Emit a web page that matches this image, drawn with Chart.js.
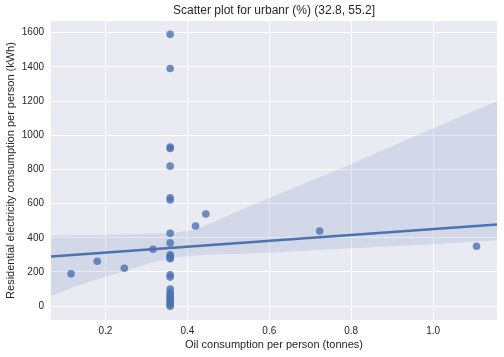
<!DOCTYPE html>
<html>
<head>
<meta charset="utf-8">
<script src="https://cdn.jsdelivr.net/npm/chart.js@4/dist/chart.umd.min.js"></script>
<style>
html,body{margin:0;padding:0;background:#fff;}
#wrap{width:504px;height:357px;position:relative;}
</style>
</head>
<body>
<div id="wrap"><canvas id="c" width="504" height="357"></canvas></div>
<script>
// ---- data ----
const pointsX = [0.116, 0.18, 0.246, 0.316, 0.42, 0.445, 0.723, 1.106,
  0.358, 0.358, 0.358, 0.358, 0.358, 0.358, 0.358, 0.358, 0.358,
  0.358, 0.358, 0.358, 0.358, 0.358, 0.358,
  0.358, 0.358, 0.358, 0.358, 0.358, 0.358, 0.358, 0.358, 0.358, 0.358];
const pointsY = [189, 263, 222, 333, 469, 539, 439, 350,
  1590, 1390, 930, 922, 819, 634, 621, 426, 370,
  300, 292, 285, 278, 184, 170,
  100, 82, 68, 58, 48, 38, 28, 18, 8, 0];
const fitX = [0.067, 1.156];
const fitY = [290, 478];
const bandX = [0.067, 0.13, 0.2, 0.26, 0.31, 0.36, 0.42, 0.46, 0.53, 0.6, 0.8, 1.0, 1.156];
const bandUpper = [412, 415, 418, 421, 424, 427, 448, 490, 562, 632, 832, 1040, 1199];
const bandLower = [60, 118, 172, 216, 252, 280, 296, 302, 306, 312, 339, 362, 385];
const xTicks = [0.2, 0.4, 0.6, 0.8, 1.0];
const yTicks = [0, 200, 400, 600, 800, 1000, 1200, 1400, 1600];
const titleText = 'Scatter plot for urbanr (%) (32.8, 55.2]';
const xTitle = 'Oil consumption per person (tonnes)';
const yTitle = 'Residential electricity consumption per person (kWh)';

const toXY = (xs, ys) => xs.map((x, i) => ({x: x, y: ys[i]}));
const BLUE = '#4C72B0';
const FONT = "'Liberation Sans', Arial, sans-serif";
const TXT = '#262626';

const bgPlugin = {
  id: 'bg',
  beforeDraw(chart) {
    const {ctx, chartArea: a} = chart;
    ctx.save();
    ctx.fillStyle = '#fff';
    ctx.fillRect(0, 0, chart.width, chart.height);
    ctx.fillStyle = '#EAEAF2';
    ctx.fillRect(a.left, a.top, a.right - a.left, a.bottom - a.top);
    ctx.restore();
  }
};

new Chart(document.getElementById('c'), {
  type: 'scatter',
  data: {
    datasets: [
      {
        type: 'line', data: toXY(fitX, fitY), borderColor: BLUE, borderWidth: 2.6,
        pointRadius: 0, fill: false, order: 0
      },
      {
        type: 'line', data: toXY(bandX, bandUpper), borderWidth: 0, borderColor: 'rgba(0,0,0,0)',
        pointRadius: 0, fill: '+1', backgroundColor: 'rgba(76,114,176,0.15)', order: 1, tension: 0
      },
      {
        type: 'line', data: toXY(bandX, bandLower), borderWidth: 0, borderColor: 'rgba(0,0,0,0)',
        pointRadius: 0, fill: false, order: 2, tension: 0
      },
      {
        type: 'scatter', data: toXY(pointsX, pointsY), backgroundColor: 'rgba(76,114,176,0.8)',
        borderWidth: 0, pointRadius: 3.8, order: 3
      }
    ]
  },
  plugins: [bgPlugin],
  options: {
    responsive: false,
    animation: false,
    layout: {padding: {left: 0, right: 7, top: 0, bottom: 0}},
    plugins: {
      legend: {display: false},
      tooltip: {enabled: false},
      title: {
        display: true, text: titleText, color: TXT, fullSize: false,
        font: {family: FONT, size: 12, weight: 'normal', lineHeight: 1.2},
        padding: {top: 3, bottom: 3.6}
      }
    },
    scales: {
      x: {
        type: 'linear', min: 0.067, max: 1.156,
        border: {display: false},
        grid: {color: '#fff', lineWidth: 1, drawTicks: false},
        afterBuildTicks: s => { s.ticks = xTicks.map(v => ({value: v})); },
        afterFit: s => { s.height = 37; },
        ticks: {color: TXT, padding: 5, font: {family: FONT, size: 10},
          callback: v => Number(v).toFixed(1)},
        title: {display: true, text: xTitle, color: TXT,
          font: {family: FONT, size: 11}, padding: {top: 0, bottom: 5}}
      },
      y: {
        type: 'linear', min: -81, max: 1668,
        border: {display: false},
        grid: {color: '#fff', lineWidth: 1, drawTicks: false},
        afterBuildTicks: s => { s.ticks = yTicks.map(v => ({value: v})); },
        afterFit: s => { s.width = 51; },
        ticks: {color: TXT, padding: 7, font: {family: FONT, size: 10},
          callback: v => String(v)},
        title: {display: true, text: yTitle, color: TXT,
          font: {family: FONT, size: 11}, padding: {top: 4, bottom: 4}}
      }
    }
  }
});
</script>
</body>
</html>
